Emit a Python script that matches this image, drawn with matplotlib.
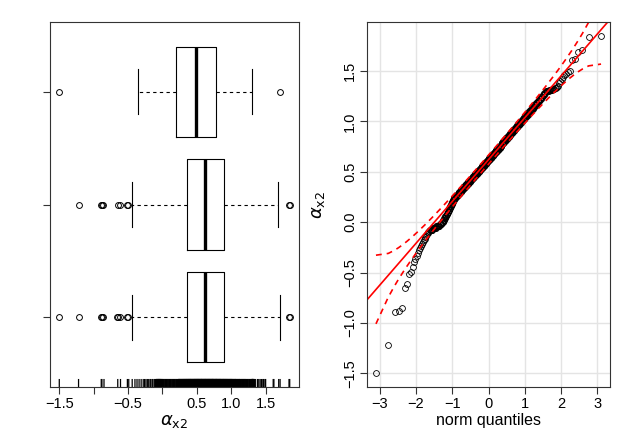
import numpy as np
import matplotlib
matplotlib.use("Agg")
import matplotlib.pyplot as plt
from statistics import NormalDist

plt.rcParams["font.family"] = ["Liberation Sans", "DejaVu Sans"]
plt.rcParams["mathtext.fontset"] = "dejavusans"

# ── data ─────────────────────────────────────────────────────────────────
# sample shown in the rug and the QQ plot (bottom box)
low_tail = [-1.50, -1.22, -0.89, -0.88, -0.85, -0.65, -0.61, -0.51, -0.49,
            -0.44, -0.40, -0.37, -0.34, -0.31, -0.28, -0.26, -0.24, -0.22,
            -0.20, -0.18, -0.17, -0.15, -0.14, -0.12, -0.11, -0.10, -0.09]
bulk_vals = [-0.08, -0.06, -0.04, -0.02, 0.00,
             0.02, 0.04, 0.06, 0.08, 0.10, 0.12, 0.14, 0.16, 0.18, 0.20, 0.22,
             0.24, 0.26, 0.28, 0.30, 0.32, 0.34, 0.36, 0.38, 0.40, 0.42, 0.44,
             0.46, 0.48, 0.50, 0.52, 0.54, 0.56, 0.58, 0.60, 0.62, 0.64, 0.66,
             0.68, 0.70, 0.72, 0.74, 0.76, 0.78, 0.80, 0.82, 0.84, 0.86, 0.88,
             0.90, 0.92, 0.94, 0.96, 0.98, 1.00, 1.02, 1.04, 1.06, 1.08, 1.10,
             1.12, 1.14, 1.16, 1.18, 1.20, 1.22, 1.24, 1.26, 1.28,
             1.30, 1.31, 1.32, 1.33]
bulk_counts = [5, 7, 7, 5, 4,
               3, 3, 3, 3, 3, 3, 3, 3, 3, 3, 3,
               7, 7, 7, 7, 8, 8, 8, 9, 9, 9, 9,
               9, 10, 10, 10, 10, 10, 10, 10, 10, 10, 10,
               10, 10, 10, 10, 9, 10, 9, 9, 9, 8, 8,
               8, 8, 7, 7, 7, 7, 6, 6, 6, 5, 5,
               5, 4, 4, 4, 4, 3, 3, 3, 3,
               5, 4, 3, 2]
high_tail = [1.34, 1.35, 1.38, 1.40, 1.42, 1.44, 1.46, 1.47, 1.49, 1.50,
             1.61, 1.62, 1.69, 1.71, 1.84, 1.85]

# boxplot summaries, bottom (1) to top (3)
box_pos = [1, 2, 3]
box_q1 = [0.35, 0.35, 0.19]
box_med = [0.62, 0.615, 0.49]
box_q3 = [0.895, 0.895, 0.775]
box_lo = [-0.44, -0.44, -0.36]
box_hi = [1.71, 1.685, 1.30]
box_fliers = [
    [-1.50, -1.22, -0.90, -0.88, -0.86, -0.665, -0.64, -0.615, -0.515, -0.505, 1.84, 1.85],
    [-1.22, -0.90, -0.88, -0.86, -0.65, -0.62, -0.515, -0.505, 1.84, 1.85],
    [-1.50, 1.71],
]

x_ticks = [-1.5, -1.0, -0.5, 0.0, 0.5, 1.0, 1.5]
x_ticklabels = ["\u22121.5", "", "\u22120.5", "", "0.5", "1.0", "1.5"]
qq_xticks = [-3, -2, -1, 0, 1, 2, 3]
qq_yticks = [-1.5, -1.0, -0.5, 0.0, 0.5, 1.0, 1.5]

sample = np.sort(np.concatenate([low_tail,
                                 np.repeat(bulk_vals, bulk_counts),
                                 high_tail]))

FS = 10.5
fig = plt.figure(figsize=(6.22, 4.32), dpi=100)
ax1 = fig.add_axes([50 / 622, 45 / 432, 249 / 622, 365 / 432])
ax2 = fig.add_axes([367 / 622, 45 / 432, 243 / 622, 365 / 432])

# ── left: horizontal boxplots + rug ──────────────────────────────────────
stats = []
for i in range(3):
    stats.append(dict(q1=box_q1[i], med=box_med[i], q3=box_q3[i],
                      whislo=box_lo[i], whishi=box_hi[i],
                      fliers=box_fliers[i]))
ax1.bxp(stats, positions=box_pos, orientation="horizontal", widths=0.8,
        capwidths=0.4, showfliers=True, patch_artist=False,
        boxprops=dict(color="black", lw=0.8),
        whiskerprops=dict(color="black", lw=0.8, linestyle=(0, (3, 3))),
        capprops=dict(color="black", lw=0.8),
        medianprops=dict(color="black", lw=2.4, solid_capstyle="butt"),
        flierprops=dict(marker="o", mfc="none", mec="black", ms=4.2, mew=0.7))

rug = ax1.vlines(sample, 0, 0.022, transform=ax1.get_xaxis_transform(),
                 color="black", lw=0.9)
rug.set_snap(False)

ax1.set_xlim(-1.635, 1.985)
ax1.set_ylim(0.38, 3.62)
ax1.set_xticks(x_ticks)
ax1.set_xticklabels(x_ticklabels)
ax1.set_yticks(box_pos)
ax1.set_yticklabels([])
ax1.set_xlabel(r"$\alpha_{\mathrm{x2}}$", fontsize=13)
ax1.xaxis.set_label_coords(0.5, -0.07)

# ── right: normal QQ plot with envelope ──────────────────────────────────
nd = NormalDist()
n = len(sample)
p = (np.arange(1, n + 1) - 0.5) / n
z = np.array([nd.inv_cdf(v) for v in p])
q1, q3 = np.quantile(sample, [0.25, 0.75])
zq = np.array([nd.inv_cdf(0.25), nd.inv_cdf(0.75)])
b = (q3 - q1) / (zq[1] - zq[0])
a = q1 - b * zq[0]
fit = a + b * z
se = (b / np.array([nd.pdf(v) for v in z])) * np.sqrt(p * (1 - p) / n)

ax2.grid(True, color="#e4e4e4", lw=1)
ax2.set_axisbelow(True)
ax2.plot(z, sample, "o", mfc="none", mec="black", ms=4.2, mew=0.6)
ax2.axline((0, a), slope=b, color="red", lw=1.2)
ax2.plot(z, fit + 1.96 * se, color="red", lw=1.2, ls=(0, (3.5, 3)))
ax2.plot(z, fit - 1.96 * se, color="red", lw=1.2, ls=(0, (3.5, 3)))

ax2.set_xlim(-3.35, 3.35)
ax2.set_ylim(-1.635, 1.985)
ax2.set_xticks(qq_xticks)
ax2.set_xticklabels([str(v).replace("-", "\u2212") for v in qq_xticks])
ax2.set_yticks(qq_yticks)
ax2.set_yticklabels([f"{v:.1f}".replace("-", "\u2212") for v in qq_yticks],
                    rotation=90, va="center")
ax2.set_xlabel("norm quantiles", fontsize=11.5)
ax2.xaxis.set_label_coords(0.5, -0.072)
ax2.set_ylabel(r"$\alpha_{\mathrm{x2}}$", fontsize=13)
ax2.yaxis.set_label_coords(-0.165, 0.5)

for ax in (ax1, ax2):
    for s in ax.spines.values():
        s.set_linewidth(0.8)
        s.set_color("#333333")
    ax.tick_params(direction="out", length=5, width=0.8, labelsize=FS,
                   pad=2, color="#333333")

fig.savefig("out.png", dpi=100)
